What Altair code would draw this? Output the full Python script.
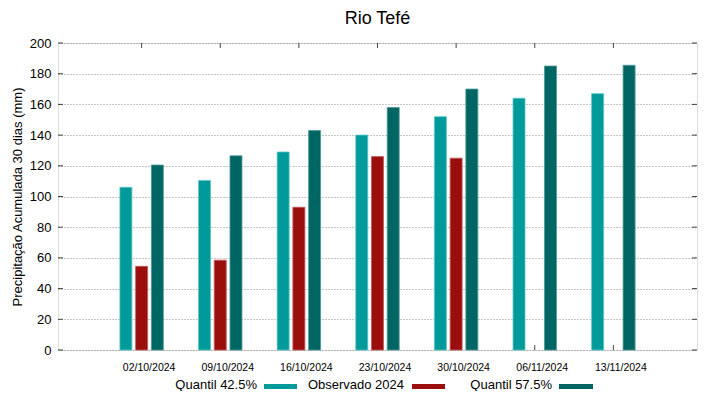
import altair as alt
import pandas as pd

dates = ["02/10/2024", "09/10/2024", "16/10/2024", "23/10/2024",
         "30/10/2024", "06/11/2024", "13/11/2024"]
q425 = [106, 110.5, 129, 140, 152, 164, 167]
obs2024 = [54.5, 58.5, 93, 126, 125, None, None]
q575 = [120.5, 126.5, 143, 158, 170, 185, 185.5]
series = ["Quantil 42.5%", "Observado 2024", "Quantil 57.5%"]
colors = ["#009a9a", "#9a0e0e", "#006664"]
strokes = ["#5cc6c6", "#c25a5a", "#4e9a98"]
yticks = [0, 20, 40, 60, 80, 100, 120, 140, 160, 180, 200]

W, H = 639, 307
FONT = "Liberation Sans"

df = pd.DataFrame({"i": list(range(len(dates))), "d": dates,
                   "q425": q425, "obs": obs2024, "q575": q575})
ydf = pd.DataFrame({"v": yticks})

xscale = alt.Scale(domain=[-1, 7], nice=False, zero=False)
yscale = alt.Scale(domain=[0, 200], nice=False)

label_expr = "[" + ",".join("'%s'" % d for d in dates) + "][datum.value]"

XAX = alt.Axis(values=list(range(len(dates))), labelExpr=label_expr,
               title=None, ticks=False, domain=False, grid=False,
               labelFont=FONT, labelFontSize=10.5, labelColor="#000",
               labelPadding=12, labelOffset=7, labelOverlap=False)
YAX = alt.Axis(values=yticks, title="Precipitação Acumulada 30 dias (mm)",
               titleFont=FONT, titleFontSize=13, titleFontWeight="normal",
               titleColor="#000", titlePadding=5,
               labelFont=FONT, labelFontSize=13, labelColor="#000",
               labelPadding=7, ticks=False, domain=False,
               labelOverlap=False,
               grid=True, gridDash=[1, 2], gridColor="#8c8c8c", gridWidth=1)


def X(field):
    return alt.X(field, scale=xscale, axis=XAX)


def Y(field):
    return alt.Y(field, scale=yscale, axis=YAX)


base = alt.Chart(df)

# inward ticks: top & bottom, left & right
top_ticks = base.mark_rule(color="#444", strokeWidth=1).encode(
    x=X("i:Q"), y=alt.value(0), y2=alt.value(5))
bot_ticks = base.mark_rule(color="#444", strokeWidth=1).encode(
    x=X("i:Q"), y=alt.value(H - 5), y2=alt.value(H))
left_ticks = alt.Chart(ydf).mark_rule(color="#444", strokeWidth=1).encode(
    y=Y("v:Q"), x=alt.value(0), x2=alt.value(5))
right_ticks = alt.Chart(ydf).mark_rule(color="#444", strokeWidth=1).encode(
    y=Y("v:Q"), x=alt.value(W - 5), x2=alt.value(W))

fields = ["q425", "obs", "q575"]
offsets = [-0.2, 0.0, 0.2]
bars = []
for f, off, c, s in zip(fields, offsets, colors, strokes):
    bars.append(
        base.transform_filter(f"isValid(datum.{f})")
        .transform_calculate(xp=f"datum.i + ({off})")
        .mark_bar(size=12, color=c, stroke=s, strokeWidth=0.8)
        .encode(x=X("xp:Q"), y=Y(f"{f}:Q"))
    )

# manual legend (gnuplot style: label then swatch)
legend_text_right = [199, 346, 494]
legend_sw = [(206, 239), (354, 387), (501, 535)]
LY = 345.5
legend_layers = []
for name, c, tx, (s0, s1) in zip(series, colors, legend_text_right, legend_sw):
    legend_layers.append(
        alt.Chart(pd.DataFrame({"t": [name]})).mark_text(
            align="right", baseline="alphabetic", font=FONT, fontSize=13, color="#000"
        ).encode(text="t:N", x=alt.value(tx), y=alt.value(LY))
    )
    legend_layers.append(
        alt.Chart(pd.DataFrame({"t": [name]})).mark_rect(color=c).encode(
            x=alt.value(s0), x2=alt.value(s1), y=alt.value(LY - 4.5), y2=alt.value(LY + 0.5))
    )

chart = alt.layer(top_ticks, bot_ticks, left_ticks, right_ticks,
                  *bars, *legend_layers).properties(
    width=W, height=H,
    title=alt.TitleParams("Rio Tefé", font=FONT, fontSize=18, fontWeight="normal",
                          color="#000", anchor="middle", offset=9),
    autosize=alt.AutoSizeParams(type="none"),
    padding={"left": 50, "top": 35, "right": 14, "bottom": 41},
).configure_view(stroke="#444", strokeWidth=1).configure(background="white")

chart.save("out.html", embed_options={"renderer": "svg", "actions": False})
